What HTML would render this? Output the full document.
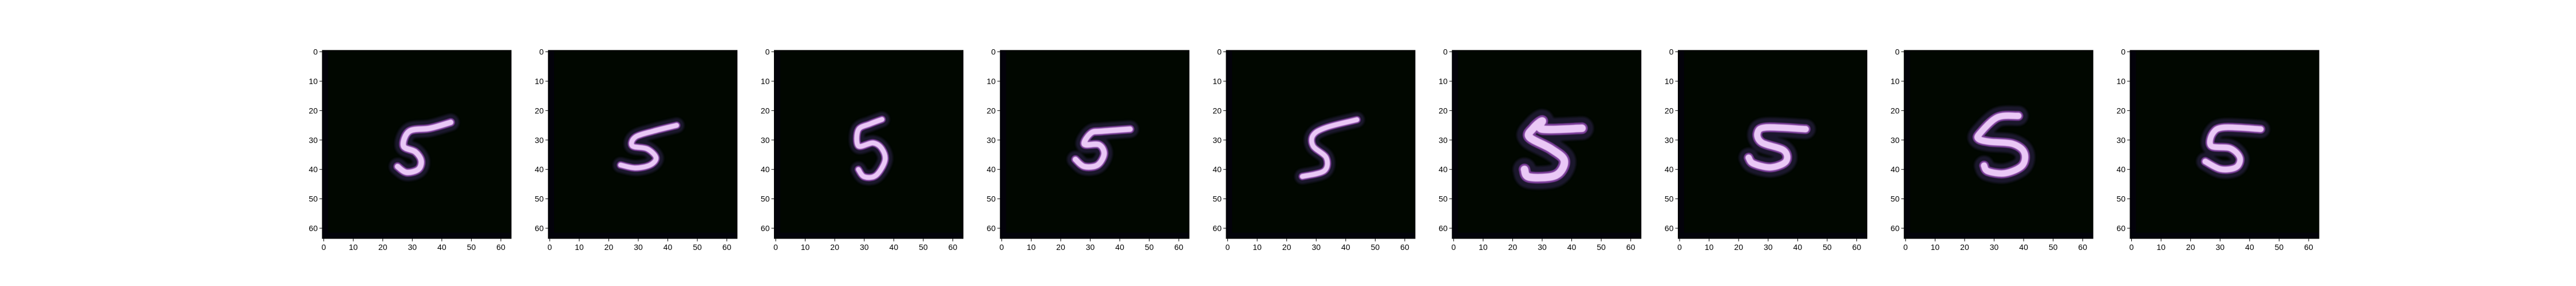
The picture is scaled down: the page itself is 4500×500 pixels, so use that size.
<!DOCTYPE html>
<html><head><meta charset="utf-8">
<style>
html,body{margin:0;padding:0;background:#fff;}
body{width:4500px;height:500px;overflow:hidden;position:relative;font-family:"Liberation Sans","DejaVu Sans",sans-serif;}
svg{position:absolute;left:0;top:0;}
</style></head>
<body>
<svg id="fig" width="4500" height="500" xmlns="http://www.w3.org/2000/svg">
<defs>
<filter id="glow" x="-50%" y="-50%" width="200%" height="200%"><feGaussianBlur stdDeviation="1.8"/></filter>
<filter id="soft" x="-50%" y="-50%" width="200%" height="200%"><feGaussianBlur stdDeviation="0.5"/></filter>
</defs>
</svg>
<script>
// stroke points (column,row) in image-pixel units for each of the 9 digit images
const strokes0=[[43,24],[36,26],[29,27],[27,32],[31,34],[33,37],[32,40],[28,41],[25,39]];
const strokes1=[[43,25],[35,27],[29,29],[28,32],[33,33],[36,36],[34,38.5],[29,39.5],[24,38.5]];
const strokes2=[[36,23],[32,24.5],[28,26.5],[28,32],[33,31],[36,33],[37,37],[34,42],[30,42.5],[28,40]];
const strokes3=[[43.5,26.3],[34,27],[30.3,27.6],[28,31.4],[33,31.6],[34.7,34.7],[32.5,38.5],[28,39],[25,36.6]];
const strokes4=[[43.8,23.1],[33.5,25.7],[29,28.3],[29,32.1],[33.4,36],[32.7,40.5],[25.3,42.4]];
const strokes5=[[43.5,26],[30,26.3],[30,23.5],[27,26],[25.7,29],[33,33],[37.5,37],[34.6,42],[25.7,42.6],[24,40]];
const strokes6=[[42.7,26.3],[29.4,25.7],[26.4,27.6],[27.9,30.9],[35.3,33.5],[36,37.3],[30.9,39.3],[25,38],[23.4,36]];
const strokes7=[[38.2,21.8],[31.1,22.3],[25.3,27.6],[24.7,29.6],[28.6,30.6],[36.3,31.3],[40.2,34.2],[39.5,38.7],[33.7,41.3],[27.9,40.6],[26.6,38.7]];
const strokes8=[[43.8,26.3],[31.5,25.7],[27.6,27.6],[27,32],[33.4,32.8],[36.7,36],[35.4,39.3],[30.2,39.9],[25,37.3]];
const strokeWidths=[1.9,1.7,1.7,1.9,1.7,2.6,2.2,2.2,2.0];
const tickValues=[0,10,20,30,40,50,60];
const allStrokes=[strokes0,strokes1,strokes2,strokes3,strokes4,strokes5,strokes6,strokes7,strokes8];

const NS="http://www.w3.org/2000/svg";
const fig=document.getElementById('fig');
const L0=563, STEP=394.75, TOP=88, W=330, H=329, N=64;
function el(tag,attrs,parent){const e=document.createElementNS(NS,tag);for(const k in attrs)e.setAttribute(k,attrs[k]);parent.appendChild(e);return e;}
function smooth(P){
  let d='M'+P[0][0].toFixed(1)+' '+P[0][1].toFixed(1);
  for(let i=0;i<P.length-1;i++){
    const p0=P[Math.max(0,i-1)],p1=P[i],p2=P[i+1],p3=P[Math.min(P.length-1,i+2)];
    const c1=[p1[0]+(p2[0]-p0[0])/6,p1[1]+(p2[1]-p0[1])/6];
    const c2=[p2[0]-(p3[0]-p1[0])/6,p2[1]-(p3[1]-p1[1])/6];
    d+=' C'+c1[0].toFixed(1)+' '+c1[1].toFixed(1)+' '+c2[0].toFixed(1)+' '+c2[1].toFixed(1)+' '+p2[0].toFixed(1)+' '+p2[1].toFixed(1);
  }
  return d;
}

allStrokes.forEach((pts,i)=>{
  const left=L0+i*STEP;
  const sx=W/N, sy=H/N;
  const xs=c=>left+(c+0.5)*sx;
  const ys=r=>TOP+(r+0.5)*sy;
  const g=el('g',{},fig);
  
  
  const bg=el('rect',{x:left,y:TOP,width:W,height:H,fill:'#010700'},g);
  
  
  el('rect',{x:left,y:TOP,width:sx*2,height:H,fill:'#03020a'},g);
  el('rect',{x:left,y:TOP+H-sy*2,width:W,height:sy*2,fill:'#02030a'},g);
  const d=smooth(pts.map(p=>[xs(p[0]),ys(p[1])]));
  const halo=el('path',{d:d,fill:'none',stroke:'#231a38',"stroke-width":strokeWidths[i]*sx*3,"stroke-linecap":"round","stroke-linejoin":"round",filter:'url(#glow)',opacity:0.8},g);
  
  
  el('path',{d:d,fill:'none',stroke:'#7a3c98',"stroke-width":strokeWidths[i]*sx*1.5,"stroke-linecap":"round","stroke-linejoin":"round",filter:'url(#soft)'},g);
  const core=el('path',{d:d,fill:'none',stroke:'#eac8f6',"stroke-width":strokeWidths[i]*sx,"stroke-linecap":"round","stroke-linejoin":"round",filter:'url(#soft)'},g);
  
  
  el('rect',{x:left,y:TOP,width:W,height:H,fill:'none',stroke:'#000',"stroke-width":1},g);
  tickValues.forEach(t=>{
    const x=xs(t), y=ys(t);
    el('line',{x1:x,y1:TOP+H,x2:x,y2:TOP+H+5,stroke:'#000',"stroke-width":1},g);
    const tx=el('text',{x:x,y:TOP+H+20,"font-size":14,"text-anchor":"middle",fill:'#000'},g);
    tx.textContent=t;
    
    
    el('line',{x1:left-5,y1:y,x2:left,y2:y,stroke:'#000',"stroke-width":1},g);
    const ty=el('text',{x:left-8,y:y+5,"font-size":14,"text-anchor":"end",fill:'#000'},g);
    ty.textContent=t;
    
    
  });
});
</script>
</body></html>
